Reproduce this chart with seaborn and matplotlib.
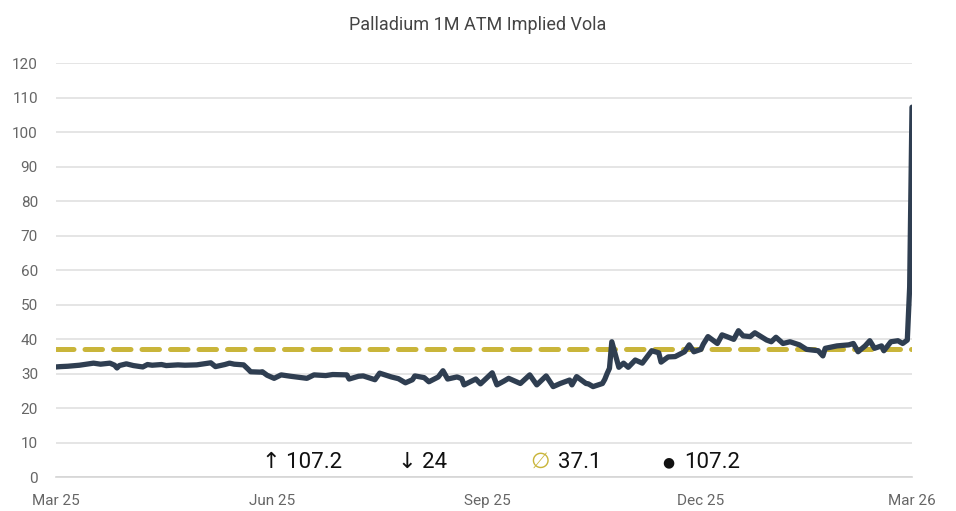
import matplotlib
matplotlib.use("Agg")
import matplotlib.pyplot as plt
import seaborn as sns
import pandas as pd

# --- data ---
dates = [
    "2025-03-01", "2025-03-03", "2025-03-06", "2025-03-11", "2025-03-14", "2025-03-17",
    "2025-03-20", "2025-03-24", "2025-03-26", "2025-03-27", "2025-03-28", "2025-03-31",
    "2025-04-03", "2025-04-07", "2025-04-09", "2025-04-11", "2025-04-15", "2025-04-17",
    "2025-04-22", "2025-04-25", "2025-04-30", "2025-05-02", "2025-05-06", "2025-05-08",
    "2025-05-12", "2025-05-14", "2025-05-16", "2025-05-20", "2025-05-22", "2025-05-23",
    "2025-05-27", "2025-05-28", "2025-05-30", "2025-06-02", "2025-06-05", "2025-06-09",
    "2025-06-16", "2025-06-19", "2025-06-24", "2025-06-27", "2025-07-03", "2025-07-04",
    "2025-07-08", "2025-07-10", "2025-07-15", "2025-07-17", "2025-07-22", "2025-07-25",
    "2025-07-28", "2025-07-31", "2025-08-01", "2025-08-05", "2025-08-07", "2025-08-11",
    "2025-08-13", "2025-08-15", "2025-08-19", "2025-08-21", "2025-08-22", "2025-08-27",
    "2025-08-29", "2025-09-03", "2025-09-05", "2025-09-08", "2025-09-10", "2025-09-12",
    "2025-09-15", "2025-09-19", "2025-09-22", "2025-09-24", "2025-09-26", "2025-09-29",
    "2025-10-02", "2025-10-06", "2025-10-07", "2025-10-09", "2025-10-13", "2025-10-14",
    "2025-10-16", "2025-10-20", "2025-10-21", "2025-10-22", "2025-10-23", "2025-10-24",
    "2025-10-27", "2025-10-29", "2025-10-31", "2025-11-03", "2025-11-06", "2025-11-10",
    "2025-11-13", "2025-11-14", "2025-11-17", "2025-11-20", "2025-11-24", "2025-11-26",
    "2025-11-28", "2025-12-01", "2025-12-02", "2025-12-04", "2025-12-08", "2025-12-10",
    "2025-12-12", "2025-12-15", "2025-12-17", "2025-12-19", "2025-12-22", "2025-12-24",
    "2025-12-29", "2025-12-31", "2026-01-02", "2026-01-05", "2026-01-08", "2026-01-12",
    "2026-01-15", "2026-01-20", "2026-01-22", "2026-01-23", "2026-01-28", "2026-02-02",
    "2026-02-04", "2026-02-06", "2026-02-09", "2026-02-11", "2026-02-13", "2026-02-16",
    "2026-02-17", "2026-02-20", "2026-02-23", "2026-02-25", "2026-02-27", "2026-02-28",
    "2026-03-01",
]
vola = [
    31.9, 32.0, 32.1, 32.4, 32.7, 33.0,
    32.7, 33.0, 32.4, 31.6, 32.3, 32.8,
    32.3, 31.9, 32.6, 32.4, 32.6, 32.3,
    32.5, 32.4, 32.5, 32.7, 33.1, 32.0,
    32.6, 33.0, 32.7, 32.5, 31.2, 30.5,
    30.4, 30.5, 29.5, 28.6, 29.6, 29.2,
    28.6, 29.6, 29.4, 29.7, 29.6, 28.4,
    29.2, 29.3, 28.2, 30.1, 29.0, 28.5,
    27.3, 28.2, 29.3, 28.8, 27.6, 29.0,
    30.8, 28.4, 29.0, 28.5, 26.7, 28.4,
    27.0, 30.2, 26.7, 27.8, 28.6, 28.0,
    27.1, 29.6, 26.7, 28.0, 29.3, 26.2,
    27.1, 28.1, 26.7, 29.1, 27.1, 27.0,
    26.2, 27.1, 28.3, 30.0, 31.5, 39.2,
    31.8, 33.0, 31.8, 33.9, 33.0, 36.6,
    36.0, 33.3, 34.8, 34.9, 36.3, 38.3,
    36.3, 37.0, 38.5, 40.7, 38.7, 41.2,
    40.7, 39.9, 42.4, 40.9, 40.7, 41.8,
    39.7, 39.2, 40.5, 38.7, 39.2, 38.3,
    37.0, 36.6, 35.1, 37.3, 38.0, 38.3,
    38.7, 36.3, 38.0, 39.5, 37.3, 38.0,
    36.6, 39.2, 39.5, 38.7, 39.7, 55.0,
    107.2,
]
mean_vola = 37.1
stat_high = "107.2"
stat_low = "24"
stat_avg = "37.1"
stat_last = "107.2"
tick_dates = ["2025-03-01", "2025-06-01", "2025-09-01", "2025-12-01", "2026-03-01"]
tick_labels = ["Mar 25", "Jun 25", "Sep 25", "Dec 25", "Mar 26"]

df = pd.DataFrame({"date": pd.to_datetime(dates), "vola": vola})

LINE = "#2F3E51"
GOLD = "#C9B53A"
GREY = "#666666"

sns.set_style("white")
plt.rcParams["font.family"] = ["Roboto", "DejaVu Sans"]

fig = plt.figure(figsize=(9.56, 5.11), dpi=100)
ax = fig.add_axes([56 / 956, 34 / 511, 856 / 956, 414 / 511])

# mean line + series
ax.axhline(mean_vola, color=GOLD, lw=3.6, ls=(0, (3.5, 2.2)), dash_capstyle="round", zorder=2)
sns.lineplot(data=df, x="date", y="vola", ax=ax, color=LINE, lw=3.8, zorder=3)

ax.set_ylim(0, 120)
ax.set_yticks(range(0, 121, 10))
ax.set_xlim(pd.Timestamp("2025-03-01"), pd.Timestamp("2026-03-01"))
ax.set_xticks(pd.to_datetime(tick_dates))
ax.set_xticklabels(tick_labels)
ax.grid(axis="y", color="#E0E0E0", lw=1.2)
ax.set_axisbelow(True)
for s in ["top", "right", "left"]:
    ax.spines[s].set_visible(False)
ax.spines["bottom"].set_color("#D5D5D5")
ax.spines["bottom"].set_linewidth(1.2)
ax.tick_params(axis="y", length=0, labelsize=11, labelcolor=GREY, pad=13)
ax.tick_params(axis="x", length=6, color="#D5D5D5", width=1.2, labelsize=11, labelcolor=GREY, pad=6)
ax.set_xlabel("")
ax.set_ylabel("")

fig.text(0.5, 0.951, "Palladium 1M ATM Implied Vola", ha="center", va="center",
         fontsize=13, color="#444444")

# statistics row
ty = (511 - 462) / 511
fs = 16
fig.text(262 / 956, ty, "\u2191 " + stat_high, ha="left", va="center", fontsize=fs, color="#111111")
fig.text(398 / 956, ty, "\u2193 " + stat_low, ha="left", va="center", fontsize=fs, color="#111111")
fig.text(530 / 956, ty, "\u2205", ha="left", va="center", fontsize=fs, color=GOLD)
fig.text(558 / 956, ty, stat_avg, ha="left", va="center", fontsize=fs, color="#111111")
fig.text(662 / 956, ty, "\u25CF", ha="left", va="center", fontsize=10, color="#111111")
fig.text(684 / 956, ty, stat_last, ha="left", va="center", fontsize=fs, color="#111111")

fig.savefig("out.png", dpi=100)
